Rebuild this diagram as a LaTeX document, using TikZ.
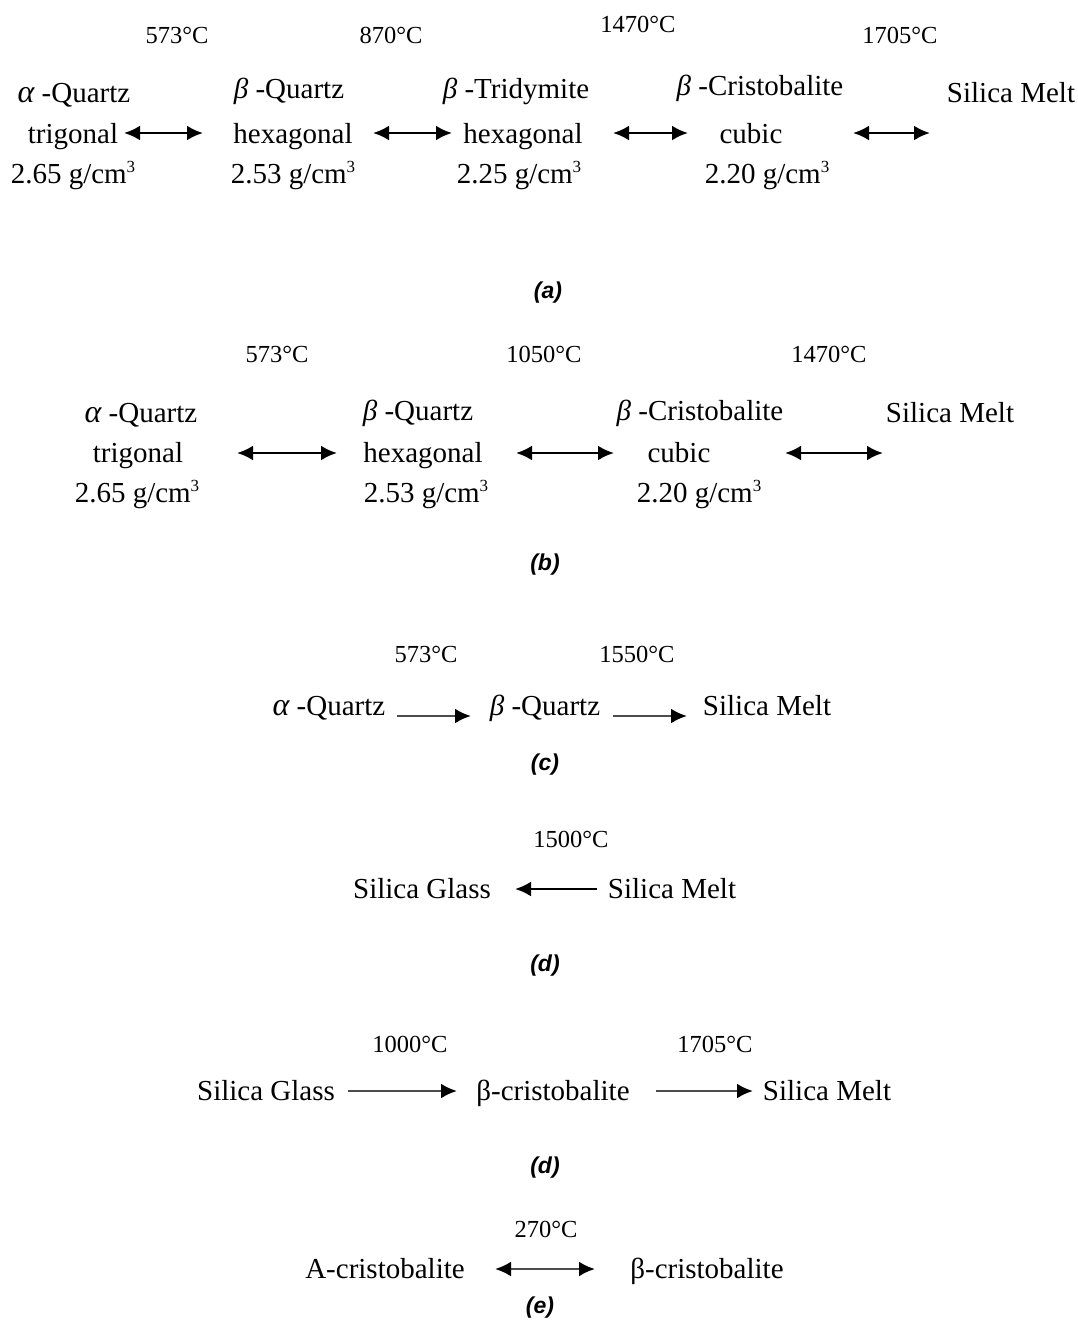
\documentclass[tikz,border=0pt]{standalone}
\usepackage{fontspec}
\setmainfont{Liberation Serif}
\newfontfamily\capfont{Liberation Sans}
\usetikzlibrary{arrows.meta}

\newcommand{\galpha}{{\itshape\fontsize{32}{34}\selectfont α}}
\newcommand{\gbeta}{{\itshape β}}
\newcommand{\dens}[1]{#1 g/cm\raisebox{11pt}{\fontsize{17}{17}\selectfont 3}}

\begin{document}
\begin{tikzpicture}[x=1pt,y=-1pt,
  phase/.style={anchor=base,inner sep=0pt,font=\fontsize{29}{34}\selectfont},
  temp/.style={anchor=base,inner sep=0pt,font=\fontsize{24.5}{29}\selectfont},
  sublabel/.style={inner sep=0pt,font=\capfont\fontsize{23}{27}\selectfont\bfseries\itshape},
  both/.style={{Latex[length=16pt,width=15pt,color=black]}-{Latex[length=16pt,width=15pt,color=black]},line width=2.6pt},
  fwd/.style={-{Latex[length=16pt,width=15pt,color=black]},line width=2.6pt},
  grey/.style={draw=black!70}]
\useasboundingbox (0,0) rectangle (1078,1333);

% (a)
\node[temp] (ta1) at (177,43) {573°C};
\node[temp] (ta2) at (391,43) {870°C};
\node[temp] (ta3) at (638,32) {1470°C};
\node[temp] (ta4) at (900,43) {1705°C};
\node[phase] (aqa) at (74,102) {\galpha\ -Quartz};
\node[phase] (aqa2) at (73,143) {trigonal};
\node[phase] (aqa3) at (73,183) {\dens{2.65}};
\node[phase] (bqa) at (289,98) {\gbeta\ -Quartz};
\node[phase] (bqa2) at (293,143) {hexagonal};
\node[phase] (bqa3) at (293,183) {\dens{2.53}};
\node[phase] (bta) at (516,98) {\gbeta\ -Tridymite};
\node[phase] (bta2) at (523,143) {hexagonal};
\node[phase] (bta3) at (519,183) {\dens{2.25}};
\node[phase] (bca) at (760,95) {\gbeta\ -Cristobalite};
\node[phase] (bca2) at (751,143) {cubic};
\node[phase] (bca3) at (767,183) {\dens{2.20}};
\node[phase] (ma) at (1011,102) {Silica Melt};
\coordinate (a1w) at (124,133); \coordinate (a1e) at (203,133);
\coordinate (a2w) at (373,133); \coordinate (a2e) at (452,133);
\coordinate (a3w) at (613,133); \coordinate (a3e) at (688,133);
\coordinate (a4w) at (853,133); \coordinate (a4e) at (930,133);
\draw[both] (a1w) -- (a1e);
\draw[both] (a2w) -- (a2e);
\draw[both] (a3w) -- (a3e);
\draw[both] (a4w) -- (a4e);
\node[sublabel] (capa) at (548,293) {(a)};

% (b)
\node[temp] (tb1) at (277,362) {573°C};
\node[temp] (tb2) at (544,362) {1050°C};
\node[temp] (tb3) at (829,362) {1470°C};
\node[phase] (aqb) at (141,422) {\galpha\ -Quartz};
\node[phase] (aqb2) at (138,462) {trigonal};
\node[phase] (aqb3) at (137,502) {\dens{2.65}};
\node[phase] (bqb) at (418,420) {\gbeta\ -Quartz};
\node[phase] (bqb2) at (423,462) {hexagonal};
\node[phase] (bqb3) at (426,502) {\dens{2.53}};
\node[phase] (bcb) at (700,420) {\gbeta\ -Cristobalite};
\node[phase] (bcb2) at (679,462) {cubic};
\node[phase] (bcb3) at (699,502) {\dens{2.20}};
\node[phase] (mb) at (950,422) {Silica Melt};
\coordinate (b1w) at (237,453); \coordinate (b1e) at (337,453);
\coordinate (b2w) at (516,453); \coordinate (b2e) at (614,453);
\coordinate (b3w) at (785,453); \coordinate (b3e) at (883,453);
\draw[both] (b1w) -- (b1e);
\draw[both] (b2w) -- (b2e);
\draw[both] (b3w) -- (b3e);
\node[sublabel] (capb) at (545,565) {(b)};

% (c)
\node[temp] (tc1) at (426,662) {573°C};
\node[temp] (tc2) at (637,662) {1550°C};
\node[phase] (aqc) at (329,715) {\galpha\ -Quartz};
\node[phase] (bqc) at (545,715) {\gbeta\ -Quartz};
\node[phase] (mc) at (767,715) {Silica Melt};
\coordinate (c1w) at (397,716); \coordinate (c1e) at (471,716);
\coordinate (c2w) at (613,716); \coordinate (c2e) at (687,716);
\draw[fwd,grey] (c1w) -- (c1e);
\draw[fwd,grey] (c2w) -- (c2e);
\node[sublabel] (capc) at (545,765) {(c)};

% (d)
\node[temp] (td) at (571,847) {1500°C};
\node[phase] (gd) at (422,898) {Silica Glass};
\node[phase] (md) at (672,898) {Silica Melt};
\coordinate (d1e) at (597,889); \coordinate (d1w) at (515,889);
\draw[fwd] (d1e) -- (d1w);
\node[sublabel] (capd) at (545,966) {(d)};

% (d) second
\node[temp] (te1) at (410,1052) {1000°C};
\node[temp] (te2) at (715,1052) {1705°C};
\node[phase] (ge) at (266,1100) {Silica Glass};
\node[phase] (bce) at (553,1100) {β-cristobalite};
\node[phase] (me) at (827,1100) {Silica Melt};
\coordinate (e1w) at (348,1091); \coordinate (e1e) at (457,1091);
\coordinate (e2w) at (656,1091); \coordinate (e2e) at (753,1091);
\draw[fwd,grey] (e1w) -- (e1e);
\draw[fwd,grey] (e2w) -- (e2e);
\node[sublabel] (capd2) at (545,1168) {(d)};

% (e)
\node[temp] (tf) at (546,1237) {270°C};
\node[phase] (acf) at (385,1278) {A-cristobalite};
\node[phase] (bcf) at (707,1278) {β-cristobalite};
\coordinate (f1w) at (495,1269); \coordinate (f1e) at (595,1269);
\draw[both,grey] (f1w) -- (f1e);
\node[sublabel] (cape) at (540,1308) {(e)};
\end{tikzpicture}
\end{document}
